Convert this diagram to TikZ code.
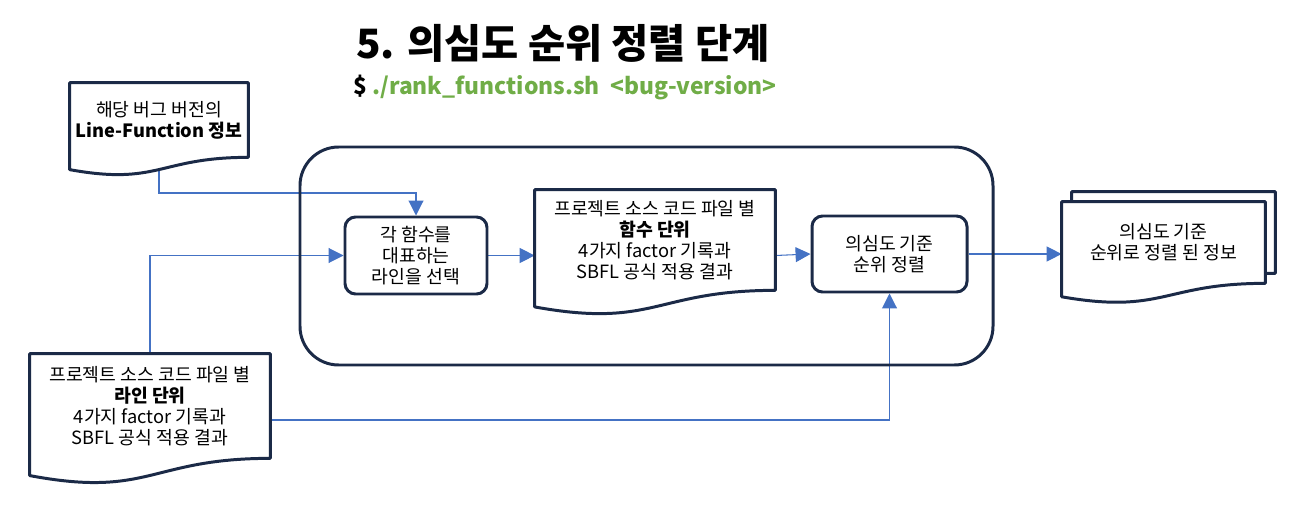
\documentclass[tikz,border=0pt]{standalone}
\usepackage{fontspec}
\setmainfont{Noto Sans CJK KR}
\usetikzlibrary{arrows.meta,calc}
\definecolor{navy}{HTML}{1B2A47}
\definecolor{flowblue}{HTML}{4472C4}
\definecolor{cmdgreen}{HTML}{70AD47}
\pgfdeclarelayer{edges}
\pgfdeclarelayer{shapes}
\pgfsetlayers{edges,shapes,main}
\tikzset{
  docline/.style={draw=navy,line width=1.7pt,fill=white,line join=round},
  doc/.style={inner sep=0pt,align=center,font=\fontsize{10.4}{12}\selectfont},
  stepbox/.style={draw=navy,line width=1.7pt,rounded corners=6pt,fill=white,
    inner sep=0pt,align=center,font=\fontsize{10.4}{12}\selectfont},
  flow/.style={draw=flowblue,line width=0.6pt,-{Triangle[length=8.5pt,width=8.5pt]}},
}
% document shape with wavy bottom, drawn round a named node
\newcommand{\docshape}[1]{%
  \draw[docline] (#1.north west) -- (#1.north east) -- (#1.south east)
    .. controls (#1.south) and ($(#1.north)!1.381!(#1.south)$)
    .. ($(#1.north west)!1.1645!(#1.south west)$) -- cycle;}
\begin{document}
\begin{tikzpicture}[x=0.02cm,y=-0.02cm]
  \useasboundingbox (0,0) rectangle (1292,517);
  % title
  \node[font=\fontsize{23}{27}\selectfont\bfseries] (title) at (563,43) {5. 의심도 순위 정렬 단계};
  \node[font=\fontsize{13}{15}\selectfont\bfseries] (cmd) at (565,88) {\$ \textcolor{cmdgreen}{./rank\_functions.sh \ <bug-version>}};
  % inputs
  \node[doc,minimum width=178*0.02cm,minimum height=74*0.02cm] (d1) at (159,120)
    {해당 버그 버전의\\\textbf{Line-Function} \textbf{정보}};
  \node[doc,minimum width=240*0.02cm,minimum height=104*0.02cm] (d2) at (150,406)
    {프로젝트 소스 코드 파일 별\\\textbf{라인 단위}\\4가지 factor 기록과\\SBFL 공식 적용 결과};
  % stage
  \node[stepbox,minimum width=142*0.02cm,minimum height=77*0.02cm] (b1) at (416,255.5)
    {각 함수를\\대표하는\\라인을 선택};
  \node[doc,minimum width=240*0.02cm,minimum height=100*0.02cm] (d3) at (655,240)
    {프로젝트 소스 코드 파일 별\\\textbf{함수 단위}\\4가지 factor 기록과\\SBFL 공식 적용 결과};
  \node[stepbox,minimum width=155*0.02cm,minimum height=76*0.02cm] (b2) at (889.5,254)
    {의심도 기준\\순위 정렬};
  % output
  \node[doc,minimum width=203*0.02cm,minimum height=81*0.02cm] (d4) at (1173.5,232.5) {};
  \node[doc,minimum width=203*0.02cm,minimum height=81*0.02cm] (d5) at (1163.5,242.5)
    {의심도 기준\\순위로 정렬 된 정보};
  \begin{pgfonlayer}{shapes}
    \draw[draw=navy,line width=1.7pt,rounded corners=22pt] (300,147) rectangle (993,365);
    \docshape{d1}
    \docshape{d2}
    \docshape{d3}
    \docshape{d4}
    \docshape{d5}
  \end{pgfonlayer}
  \begin{pgfonlayer}{edges}
    \draw[flow] (d1.south) -- (d1.south |- 0,193) -| (b1.north);
    \draw[flow] (d2.north) |- (b1.west);
    \draw[flow] (b1.east) -- (b1.east -| d3.west);
    \draw[flow] (b1.east -| d3.east) -- (b2.west);
    \draw[flow] ($(d2.east)+(0,14)$) -| (b2.south);
    \draw[flow] (b2.east) -- (b2.east -| d5.west);
  \end{pgfonlayer}
\end{tikzpicture}
\end{document}
